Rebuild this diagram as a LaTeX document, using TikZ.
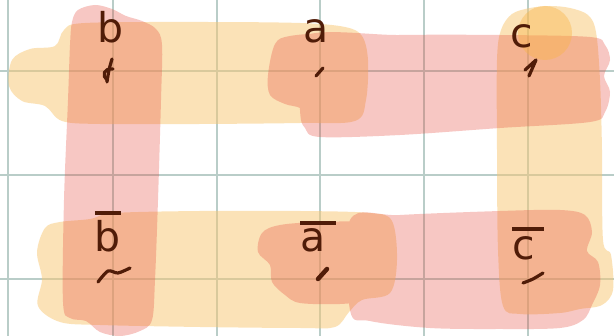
\documentclass[tikz,border=0pt]{standalone}
\usepackage{fontspec}
\newfontfamily\handfont{DejaVu Sans}
\definecolor{hlY}{RGB}{249,199,113}
\definecolor{hlP}{RGB}{231,72,58}
\definecolor{hlO}{RGB}{250,180,69}
\definecolor{ink}{RGB}{80,28,8}
\definecolor{gridc}{RGB}{185,205,200}
\newcommand\barred[3]{\leavevmode\vbox{\offinterlineskip\hbox to #2{\hss\vrule width #2 height 3.6pt depth 0pt\hss}\kern #3\hbox{#1}}}
\begin{document}
\begin{tikzpicture}[x=1pt,y=-1pt,
  gridline/.style={draw=gridc, line width=1.3pt},
  yellowhl/.style={fill=hlY, fill opacity=0.5},
  pinkhl/.style={fill=hlP, fill opacity=0.3},
  orangehl/.style={fill=hlO, fill opacity=0.4},
  lbl/.style={font=\handfont\fontsize{41}{46}\selectfont, text=ink, inner sep=0pt, anchor=base},
  pen/.style={draw=ink, line width=3.2pt, line cap=round, line join=round}]
\useasboundingbox (0,0) rectangle (614,336);
\fill[white] (0,0) rectangle (614,336);
% grid
\foreach \x in {8,113,217,320,424,528} \draw[gridline] (\x,0) -- (\x,336);
\foreach \y in {71,175,279} \draw[gridline] (0,\y) -- (614,\y);
% yellow highlighter
\fill[yellowhl]
  plot[smooth cycle, tension=0.55] coordinates {(12,60) (30,49) (55,46) (64,30) (85,23) (200,22) (300,23) (345,27) (362,36) (368,60) (366,100) (355,121) (300,123) (200,124) (100,124) (62,121) (45,106) (22,101) (9,86)}
  plot[smooth cycle, tension=0.55] coordinates {(501,30) (512,14) (530,8) (550,6) (570,8) (588,15) (596,32) (600,80) (602,150) (603,240) (611,255) (613,290) (602,305) (580,309) (560,313) (520,314) (503,306) (498,250) (497,150) (497,60)}
  plot[smooth cycle, tension=0.55] coordinates {(45,228) (60,222) (90,219) (115,213) (200,211) (300,211) (370,213) (392,221) (397,260) (390,293) (362,300) (349,312) (335,327) (300,328) (200,327) (100,325) (60,322) (38,306) (42,279) (37,252)};
% pink highlighter
\fill[pinkhl]
  plot[smooth cycle, tension=0.55] coordinates {(72,22) (78,10) (95,5) (112,9) (126,16) (142,21) (156,29) (162,45) (161,100) (158,200) (155,280) (152,320) (140,331) (120,336) (100,332) (86,321) (70,318) (63,302) (64,200) (68,100) (70,45)}
  plot[smooth cycle, tension=0.55] coordinates {(300,38) (400,35) (500,35) (590,37) (605,45) (610,60) (604,76) (610,92) (605,112) (590,122) (500,128) (400,135) (320,137) (305,128) (300,110)}
  plot[smooth cycle, tension=0.55] coordinates {(275,44) (290,36) (330,33) (365,35) (378,46) (378,65) (386,80) (386,100) (375,115) (340,118) (310,118) (300,108) (285,104) (270,95) (268,75)}
  plot[smooth cycle, tension=0.55] coordinates {(350,220) (400,215) (500,211) (560,210) (585,215) (592,232) (587,251) (598,262) (600,285) (592,305) (583,320) (560,328) (500,329) (430,328) (370,321) (350,310)}
  plot[smooth cycle, tension=0.55] coordinates {(262,233) (280,225) (320,222) (380,222) (396,231) (398,250) (388,265) (385,285) (365,300) (340,304) (300,303) (285,295) (272,282) (270,265) (258,252)};
% orange dot at c
\fill[orangehl] (545,33) circle (27);
% labels
\node[lbl] (lb) at (111,43) {b};
\node[lbl] (la) at (316,43) {a};
\node[lbl] (lc) at (522,48) {c};
\node[lbl] (lnb) at (108,252) {\barred{b}{26pt}{6pt}};
\node[lbl] (lna) at (318,252) {\barred{a}{36pt}{4pt}};
\node[lbl] (lnc) at (528,260) {\barred{c}{32pt}{6pt}};
% pen marks
\draw[pen] plot[smooth] coordinates {(112,59) (109,70) (107,82)};
\draw[pen] (107,80) .. controls (102,76) and (103,68) .. (113,69);
\draw[pen] (316,76) -- (323,68);
\draw[pen] (525,70) -- (536,60) -- (529,76);
\draw[pen] plot[smooth] coordinates {(98,282) (108,271) (118,273) (130,268)};
\draw[pen, line width=4.5pt] (318,279) -- (327,269);
\draw[pen] plot[smooth] coordinates {(523,283) (533,279) (543,273)};
\end{tikzpicture}
\end{document}
